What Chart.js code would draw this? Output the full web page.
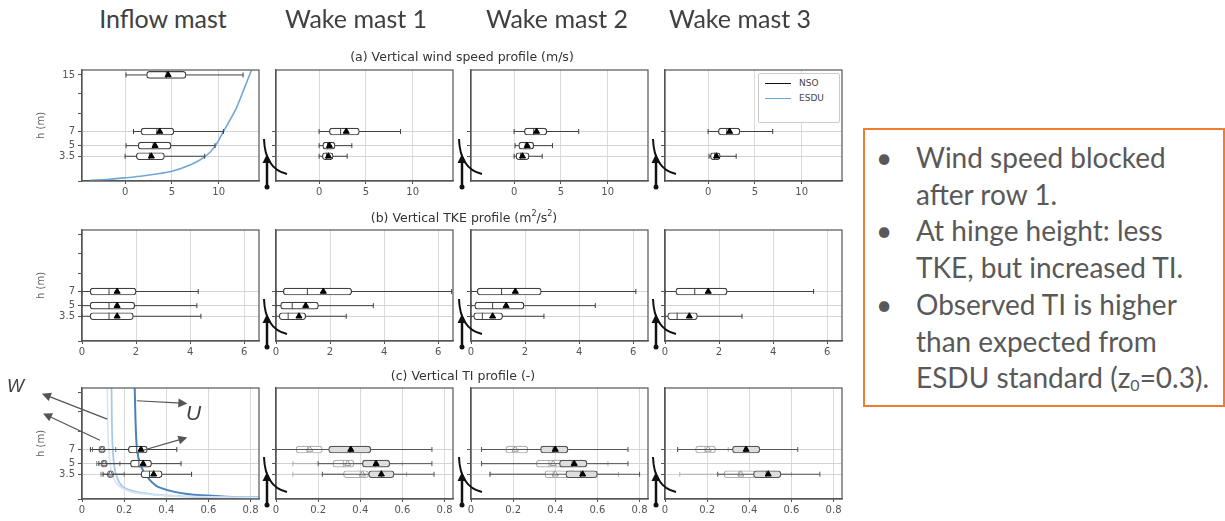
<!DOCTYPE html>
<html>
<head>
<meta charset="utf-8">
<script src="https://cdn.jsdelivr.net/npm/chart.js"></script>
<style>
  body { margin: 0; width: 1225px; height: 521px; position: relative; overflow: hidden; background: #fff; }
  canvas { position: absolute; }
  .mast { position: absolute; top: 3px; font: 25px Lato, sans-serif; color: #404040; transform: translateX(-50%); white-space: nowrap; z-index: 2; }
  .sub { position: absolute; font: 12.5px 'DejaVu Sans', sans-serif; color: #333; transform: translate(-50%, -50%); white-space: nowrap; z-index: 2; }
  .lbl { position: absolute; font-style: italic; font-family: 'Liberation Sans', sans-serif; color: #404040; z-index: 2; }
  #legend { position: absolute; left: 758px; top: 73px; width: 80px; height: 48px; border: 1px solid #ccc; border-radius: 2px; background: #fff; z-index: 2; font: 9px 'DejaVu Sans', sans-serif; color: #444; }
  #legend div { position: absolute; left: 6px; height: 12px; line-height: 12px; }
  #legend span { display: inline-block; width: 26px; vertical-align: middle; margin-right: 8px; }
  #notes { position: absolute; left: 863px; top: 128px; width: 358px; height: 266px; padding-top: 9px; border: 2px solid #ed7d31; font: 28px Lato, sans-serif; color: #595959; line-height: 36.7px; z-index: 2; }
  #notes .item { position: relative; padding-left: 51px; white-space: nowrap; }
  #notes .dot { position: absolute; left: 11px; }
  #notes sub { font-size: 16px; vertical-align: -3px; line-height: 0; }
</style>
</head>
<body>
<div class="mast" style="left:163px">Inflow mast</div>
<div class="mast" style="left:356px">Wake mast 1</div>
<div class="mast" style="left:557px">Wake mast 2</div>
<div class="mast" style="left:740px">Wake mast 3</div>
<div class="sub" style="left:462px; top:56px">(a) Vertical wind speed profile (m/s)</div>
<div class="sub" style="left:464px; top:217px">(b) Vertical TKE profile (m<sup style="font-size:8px">2</sup>/s<sup style="font-size:8px">2</sup>)</div>
<div class="sub" style="left:463px; top:375px">(c) Vertical TI profile (-)</div>
<div class="lbl" style="left:7px; top:376px; font-size:18px">W</div>
<div class="lbl" style="left:186px; top:401px; font-size:21px">U</div>
<div id="legend">
  <div style="top:3px"><span style="border-top:1.5px solid #111"></span>NSO</div>
  <div style="top:18px"><span style="border-top:1.5px solid #6fa8d8"></span>ESDU</div>
</div>
<div id="notes">
  <div class="item"><span class="dot">•</span>Wind speed blocked<br>after row 1.</div>
  <div class="item"><span class="dot">•</span>At hinge height: less<br>TKE, but increased TI.</div>
  <div class="item"><span class="dot">•</span>Observed TI is higher<br>than expected from<br>ESDU standard (z<sub>0</sub>=0.3).</div>
</div>
<script>
  // heights (m) and axis ticks
  const hTicks = [0, 3.5, 5, 7, 9.6, 12.4, 15];
  const hLabels = [3.5, 5, 7];
  const speedTicks = [0, 5, 10];
  const tkeTicks = [0, 2, 4, 6];
  const tiTicks = [0, 0.2, 0.4, 0.6, 0.8];

  // box rows: [h, whisker low, q1, median, q3, whisker high, mean]
  const speedInflow = [[15, 0.1, 2.3, 4.4, 6.5, 12.6, 4.6], [7, 0.9, 1.7, 3.4, 5.2, 10.5, 3.7], [5, 0.1, 1.4, 3.0, 4.9, 9.6, 3.2], [3.5, 0.0, 1.2, 2.6, 4.2, 8.5, 2.8]];
  const speedWake1 = [[7, 0.0, 1.1, 2.3, 4.3, 8.7, 2.9], [5, 0.0, 0.4, 0.9, 1.7, 3.5, 1.1], [3.5, 0.0, 0.35, 0.8, 1.5, 3.0, 1.0]];
  const speedWake2 = [[7, 0.0, 1.1, 2.1, 3.5, 6.9, 2.4], [5, 0.1, 0.5, 1.2, 2.1, 4.1, 1.4], [3.5, 0.0, 0.2, 0.7, 1.6, 3.0, 0.9]];
  const speedWake3 = [[7, 0.0, 1.1, 2.0, 3.4, 6.9, 2.3], [3.5, 0.1, 0.25, 0.7, 1.3, 3.0, 0.9]];

  const tkeInflow = [[7, 0.0, 0.3, 1.0, 2.0, 4.3, 1.3], [5, 0.0, 0.3, 1.0, 1.95, 4.25, 1.3], [3.5, 0.0, 0.3, 1.0, 1.9, 4.4, 1.3]];
  const tkeWake1 = [[7, 0.0, 0.27, 1.16, 2.8, 6.5, 1.75], [5, 0.0, 0.17, 0.6, 1.57, 3.6, 1.1], [3.5, 0.0, 0.12, 0.45, 1.1, 2.6, 0.85]];
  const tkeWake2 = [[7, 0.0, 0.23, 1.13, 2.6, 6.1, 1.64], [5, 0.0, 0.14, 0.8, 1.96, 4.6, 1.3], [3.5, 0.0, 0.1, 0.42, 1.17, 2.7, 0.8]];
  const tkeWake3 = [[7, 0.0, 0.4, 1.1, 2.3, 5.5, 1.6], [3.5, 0.0, 0.1, 0.45, 1.2, 2.85, 0.9]];

  const tiInflowU = [[7, 0.04, 0.22, 0.26, 0.31, 0.45, 0.28], [5, 0.08, 0.23, 0.27, 0.33, 0.47, 0.29], [3.5, 0.1, 0.28, 0.32, 0.38, 0.52, 0.34]];
  const tiInflowW = [[7, 0.05, 0.08, 0.09, 0.11, 0.16, 0.095], [5, 0.07, 0.09, 0.1, 0.12, 0.18, 0.105], [3.5, 0.09, 0.12, 0.13, 0.15, 0.2, 0.135]];
  const tiWake1U = [[7, 0.0, 0.25, 0.35, 0.45, 0.74, 0.355], [5, 0.2, 0.41, 0.47, 0.54, 0.74, 0.475], [3.5, 0.22, 0.44, 0.5, 0.56, 0.75, 0.5]];
  const tiWake1W = [[7, 0.0, 0.095, 0.15, 0.22, 0.3, 0.16], [5, 0.08, 0.27, 0.32, 0.37, 0.6, 0.34], [3.5, 0.08, 0.32, 0.4, 0.44, 0.62, 0.41]];
  const tiWake2U = [[7, 0.05, 0.33, 0.39, 0.46, 0.745, 0.4], [5, 0.05, 0.42, 0.48, 0.55, 0.745, 0.49], [3.5, 0.09, 0.45, 0.52, 0.6, 0.8, 0.53]];
  const tiWake2W = [[7, 0.05, 0.165, 0.2, 0.27, 0.4, 0.21], [5, 0.05, 0.31, 0.37, 0.45, 0.65, 0.39], [3.5, 0.09, 0.35, 0.39, 0.5, 0.7, 0.4]];
  const tiWake3U = [[7, 0.06, 0.32, 0.38, 0.45, 0.63, 0.385], [3.5, 0.25, 0.42, 0.48, 0.55, 0.735, 0.49]];
  const tiWake3W = [[7, 0.06, 0.145, 0.19, 0.24, 0.3, 0.205], [3.5, 0.07, 0.28, 0.35, 0.43, 0.6, 0.36]];

  // ESDU profiles: [x, h]
  const esduSpeed = [[-3.7, 0.1], [-2, 0.2], [0, 0.45], [2, 0.75], [4.9, 1.35], [7, 2.3], [8.5, 3.4], [9.6, 4.9], [10.5, 7.0], [11.8, 10.1], [12.7, 13], [13.5, 15.7]];
  const esduTiU = [[0.25, 15.7], [0.26, 7.3], [0.28, 4.6], [0.32, 2.75], [0.37, 1.6], [0.5, 0.7], [0.72, 0.3], [0.84, 0.2]];
  const esduTiW = [[0.14, 15.7], [0.145, 7.6], [0.16, 3.6], [0.2, 1.6], [0.33, 0.7], [0.56, 0.3], [0.84, 0.2]];
  const esduTiV = [[0.12, 15.7], [0.125, 8], [0.14, 4], [0.17, 2], [0.25, 0.9], [0.45, 0.4], [0.84, 0.2]];

  Chart.defaults.font.family = "'DejaVu Sans', sans-serif";
  Chart.defaults.font.size = 10;
  Chart.defaults.color = '#555';

  const colLeft = [82, 276, 471, 665];
  const rowTop = [67, 227, 385];
  const areaW = 177, areaH = 114;

  const plain = { fill: '#ffffff', line: '#404040', mean: '#000', meanLine: '#000' };
  const grey = { fill: '#dedede', line: '#555', mean: '#000', meanLine: '#000' };
  const pale = { fill: '#ffffff', line: '#b0b0b0', mean: '#ffffff', meanLine: '#999' };
  const small = { fill: '#ffffff', line: '#777', mean: '#fff', meanLine: '#666' };

  const rowDefs = [
    { min: -4.6, max: 14.3, ticks: speedTicks, main: [speedInflow, speedWake1, speedWake2, speedWake3], style: [plain, plain, plain, plain] },
    { min: 0, max: 6.55, ticks: tkeTicks, main: [tkeInflow, tkeWake1, tkeWake2, tkeWake3], style: [plain, plain, plain, plain] },
    { min: 0, max: 0.84, ticks: tiTicks, main: [tiInflowU, tiWake1U, tiWake2U, tiWake3U], style: [plain, grey, grey, grey],
      second: [tiInflowW, tiWake1W, tiWake2W, tiWake3W], style2: [small, pale, pale, pale] }
  ];

  function boxSets(rows, st, o) {
    const sets = [];
    rows.forEach(r => {
      sets.push({ type: 'line', data: [{ x: r[1], y: r[0] }, { x: r[5], y: r[0] }], borderColor: st.line, borderWidth: 1,
        pointStyle: 'line', pointRotation: 90, pointRadius: 2.5, pointBorderColor: st.line, pointBorderWidth: 1, order: o + 3 });
    });
    sets.push({ type: 'bar', indexAxis: 'y', grouped: false, barThickness: 7, data: rows.map(r => ({ x: [r[2], r[4]], y: r[0] })),
      backgroundColor: st.fill, borderColor: st.line, borderWidth: 1.2, borderRadius: 3, borderSkipped: false, order: o + 2 });
    sets.push({ type: 'scatter', data: rows.map(r => ({ x: r[3], y: r[0] })), pointStyle: 'line', pointRotation: 90, pointRadius: 3.5,
      pointBorderColor: st.line, pointBorderWidth: 1, order: o + 1 });
    sets.push({ type: 'scatter', data: rows.map(r => ({ x: r[6], y: r[0] })), pointStyle: 'triangle', pointRadius: 3.5,
      pointBackgroundColor: st.mean, pointBorderColor: st.meanLine, pointBorderWidth: 1, order: o });
    return sets;
  }

  function curve(pts, color, width) {
    return { type: 'line', data: pts.map(p => ({ x: p[0], y: p[1] })), borderColor: color, borderWidth: width,
      pointRadius: 0, tension: 0.3, order: 20 };
  }

  const frame = {
    id: 'frame',
    afterDraw(chart) {
      const a = chart.chartArea, ctx = chart.ctx;
      ctx.save();
      ctx.strokeStyle = '#555';
      ctx.lineWidth = 1.2;
      ctx.strokeRect(a.left, a.top, a.right - a.left, a.bottom - a.top);
      ctx.restore();
    }
  };

  // tracker sketch drawn just left of each wake panel
  const hinge = {
    id: 'hinge',
    afterDraw(chart) {
      const a = chart.chartArea, ctx = chart.ctx;
      const px = a.left - 9, yb = a.bottom;
      ctx.save();
      ctx.strokeStyle = '#111';
      ctx.fillStyle = '#111';
      ctx.lineWidth = 2;
      ctx.beginPath();
      ctx.moveTo(px - 3, yb - 42);
      ctx.quadraticCurveTo(px - 2, yb - 12, px + 20, yb - 7);
      ctx.stroke();
      ctx.lineWidth = 2.5;
      ctx.beginPath();
      ctx.moveTo(px, yb - 24);
      ctx.lineTo(px, yb + 6);
      ctx.stroke();
      ctx.beginPath();
      ctx.moveTo(px, yb - 27);
      ctx.lineTo(px - 4.5, yb - 18);
      ctx.lineTo(px + 4.5, yb - 18);
      ctx.closePath();
      ctx.fill();
      ctx.beginPath();
      ctx.arc(px, yb + 6, 2.5, 0, Math.PI * 2);
      ctx.fill();
      ctx.restore();
    }
  };

  // wind component arrows on the inflow TI panel, in data units
  const arrowList = [[0.12, 11.3, -0.19, 14.9], [0.085, 8.3, -0.185, 12.1], [0.26, 13.9, 0.5, 13.5], [0.29, 6.9, 0.5, 8.7]];
  const arrows = {
    id: 'arrows',
    afterDraw(chart) {
      const xs = chart.scales.x, ys = chart.scales.y, ctx = chart.ctx;
      ctx.save();
      ctx.strokeStyle = '#555';
      ctx.fillStyle = '#555';
      ctx.lineWidth = 1.2;
      arrowList.forEach(a => {
        const x1 = xs.getPixelForValue(a[0]), y1 = ys.getPixelForValue(a[1]);
        const x2 = xs.getPixelForValue(a[2]), y2 = ys.getPixelForValue(a[3]);
        const ang = Math.atan2(y2 - y1, x2 - x1);
        ctx.beginPath();
        ctx.moveTo(x1, y1);
        ctx.lineTo(x2 - 6 * Math.cos(ang), y2 - 6 * Math.sin(ang));
        ctx.stroke();
        ctx.beginPath();
        ctx.moveTo(x2, y2);
        ctx.lineTo(x2 - 9 * Math.cos(ang) + 4.5 * Math.sin(ang), y2 - 9 * Math.sin(ang) - 4.5 * Math.cos(ang));
        ctx.lineTo(x2 - 9 * Math.cos(ang) - 4.5 * Math.sin(ang), y2 - 9 * Math.sin(ang) + 4.5 * Math.cos(ang));
        ctx.closePath();
        ctx.fill();
      });
      ctx.restore();
    }
  };

  rowDefs.forEach((rd, r) => {
    colLeft.forEach((cl, c) => {
      const padL = c === 0 ? 30 : 0, yW = c === 0 ? 52 : 24, padR = c === 3 ? 14 : 8;
      const cv = document.createElement('canvas');
      cv.width = padL + yW + areaW + padR;
      cv.height = 6 + areaH + 22 + 2;
      cv.style.left = (cl - padL - yW) + 'px';
      cv.style.top = (rowTop[r] - 6) + 'px';
      document.body.appendChild(cv);

      let datasets = boxSets(rd.main[c], rd.style[c], 0);
      if (rd.second) datasets = datasets.concat(boxSets(rd.second[c], rd.style2[c], 4));
      if (c === 0 && r === 0) datasets.push(curve(esduSpeed, '#6fa8d8', 1.6));
      if (c === 0 && r === 2) {
        datasets.push(curve(esduTiV, '#d6e5f2', 1.6));
        datasets.push(curve(esduTiW, '#a7c8e6', 1.8));
        datasets.push(curve(esduTiU, '#4a82bd', 2));
      }
      const yLabels = r === 0 ? hLabels.concat([15]) : hLabels;
      const plugins = [frame];
      if (c > 0) plugins.push(hinge);
      if (c === 0 && r === 2) plugins.push(arrows);

      new Chart(cv, {
        type: 'scatter',
        data: { datasets: datasets },
        plugins: plugins,
        options: {
          responsive: false,
          animation: false,
          layout: { padding: { left: padL, right: padR, top: 6, bottom: 2 } },
          plugins: { legend: { display: false }, tooltip: { enabled: false } },
          scales: {
            x: {
              type: 'linear', min: rd.min, max: rd.max, offset: false,
              afterBuildTicks: s => { s.ticks = rd.ticks.map(v => ({ value: v })); },
              afterFit: s => { s.height = 22; },
              ticks: { padding: 2, color: '#555', callback: v => String(v) },
              grid: { color: '#dadada', tickColor: '#555', tickLength: 3, offset: false },
              border: { color: '#555', width: 1.2 }
            },
            y: {
              type: 'linear', min: 0, max: 15.7, offset: false,
              afterBuildTicks: s => { s.ticks = hTicks.map(v => ({ value: v })); },
              afterFit: s => { s.width = yW; },
              ticks: { padding: 3, color: '#555', callback: v => (c === 0 && yLabels.includes(v)) ? String(v) : '' },
              grid: {
                offset: false, tickLength: 4,
                color: ctx => (ctx.tick && hLabels.includes(ctx.tick.value)) ? '#d4d4d4' : 'rgba(0,0,0,0)',
                tickColor: ctx => (c === 0 || (ctx.tick && hLabels.includes(ctx.tick.value))) ? '#555' : 'rgba(0,0,0,0)'
              },
              border: { color: '#555', width: 1.2 },
              title: { display: c === 0, text: 'h (m)', color: '#666', font: { size: 10 }, padding: { top: 5, bottom: 0 } }
            }
          }
        }
      });
    });
  });
</script>
</body>
</html>
